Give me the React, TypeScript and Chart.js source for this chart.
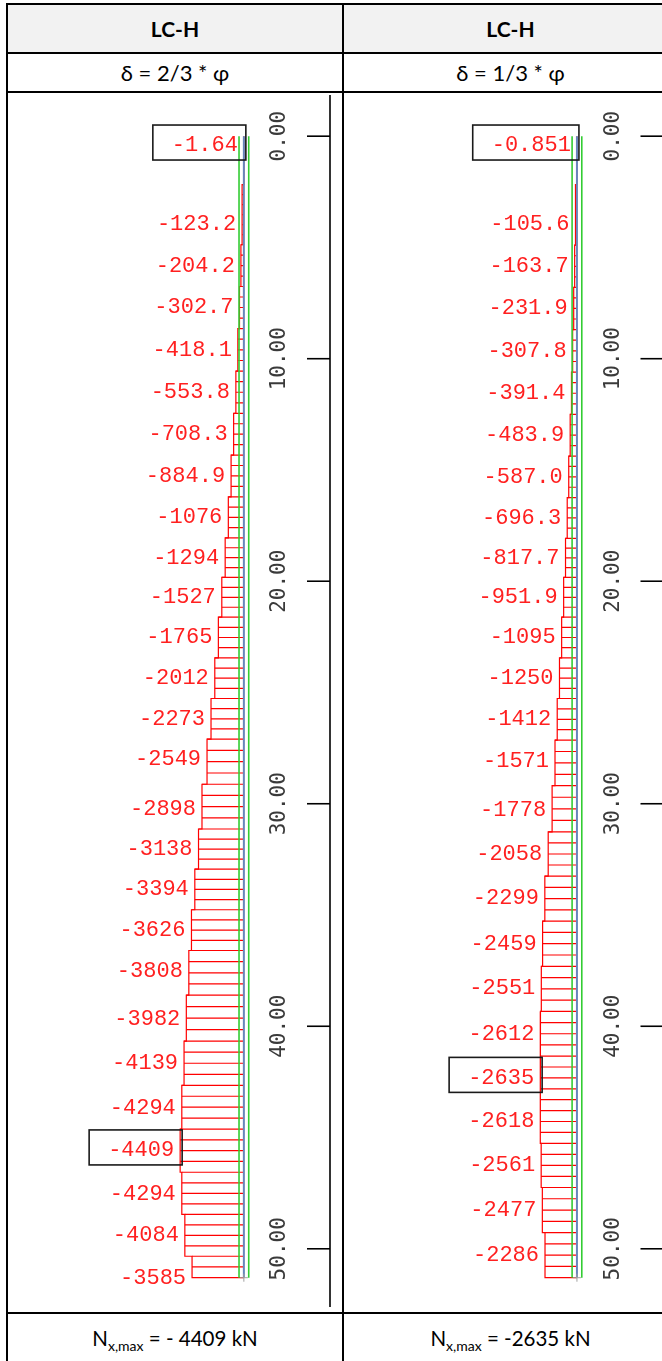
import React, { useEffect, useRef } from "react";
import { Chart, registerables } from "chart.js";

Chart.register(...registerables);

// ---------- data ----------
const columnTitles = ["LC-H", "LC-H"];
const columnSubtitles = ["δ = 2/3 * φ", "δ = 1/3 * φ"];
const maxSummaries = ["- 4409 kN", "-2635 kN"];

const pileLength = 51.3; // m
const depthTicks = [0, 10, 20, 30, 40, 50];

// left column (δ = 2/3 φ): depth of each result node [m] and normal force [kN]
const leftDepths = [
  0.42, 3.94, 5.82, 7.69, 9.6, 11.52, 13.39, 15.27, 17.14, 18.96, 20.7, 22.53, 24.36, 26.18,
  28.01, 30.24, 32.03, 33.85, 35.68, 37.51, 39.69, 41.65, 43.66, 45.58, 47.54, 49.37, 51.3,
];
const leftForces = [
  -1.64, -123.2, -204.2, -302.7, -418.1, -553.8, -708.3, -884.9, -1076, -1294, -1527, -1765,
  -2012, -2273, -2549, -2898, -3138, -3394, -3626, -3808, -3982, -4139, -4294, -4409, -4294,
  -4084, -3585,
];

// right column (δ = 1/3 φ)
const rightDepths = [
  0.42, 3.94, 5.86, 7.73, 9.65, 11.56, 13.44, 15.31, 17.18, 18.96, 20.7, 22.53, 24.36, 26.18,
  28.1, 30.28, 32.25, 34.25, 36.3, 38.31, 40.36, 42.32, 44.28, 46.24, 48.25, 50.3,
];
const rightForces = [
  -0.851, -105.6, -163.7, -231.9, -307.8, -391.4, -483.9, -587.0, -696.3, -817.7, -951.9, -1095,
  -1250, -1412, -1571, -1778, -2058, -2299, -2459, -2551, -2612, -2635, -2618, -2561, -2477,
  -2286,
];

// ---------- layout constants ----------
const CHART_H = 1219;
const PX_PER_M = 22.436;
const DEPTH_ZERO_PX = 38.5;
const HATCH_STEP = 0.47;

function fmtForce(v: number): string {
  const a = Math.abs(v);
  if (a >= 1000) return v.toFixed(0);
  if (a >= 100) return v.toFixed(1);
  return v.toPrecision(3);
}

type Seg = { top: number; bot: number; v: number };
function buildSegments(depths: number[], forces: number[], length: number): Seg[] {
  const segs: Seg[] = [];
  for (let i = 0; i < depths.length; i++) {
    const top = i === 0 ? 0 : (depths[i - 1] + depths[i]) / 2;
    const bot = i === depths.length - 1 ? length : (depths[i] + depths[i + 1]) / 2;
    segs.push({ top, bot, v: forces[i] });
  }
  return segs;
}

type DiagramProps = {
  depths: number[];
  forces: number[];
  pxPerKN: number;
  baselinePx: number;
  axisPx: number;
  width: number;
};

function ForceDiagram(props: DiagramProps) {
  const ref = useRef<HTMLCanvasElement>(null);
  useEffect(() => {
    const { depths, forces, pxPerKN, baselinePx, axisPx, width } = props;
    const segs = buildSegments(depths, forces, pileLength);

    const envelope: any[] = [];
    segs.forEach((s) => {
      envelope.push({ x: s.v, y: s.top });
      envelope.push({ x: s.v, y: s.bot });
    });
    envelope.push({ x: 0, y: pileLength });

    const hatch: any[] = [];
    segs.forEach((s) => {
      const n = Math.max(1, Math.round((s.bot - s.top) / HATCH_STEP));
      for (let k = 0; k < n; k++) {
        const h = s.top + ((s.bot - s.top) * k) / n;
        hatch.push({ x: s.v, y: h }, { x: 0, y: h }, { x: 0, y: null });
      }
    });

    const halfPile = 5 / pxPerKN;
    const xMin = -baselinePx / pxPerKN;
    const xMax = xMin + width / pxPerKN;
    const yMin = -DEPTH_ZERO_PX / PX_PER_M;
    const yMax = yMin + CHART_H / PX_PER_M;

    let maxIdx = 0;
    forces.forEach((v, i) => {
      if (Math.abs(v) > Math.abs(forces[maxIdx])) maxIdx = i;
    });

    const overlay = {
      id: "forceOverlay",
      afterDatasetsDraw(chart: any) {
        const ctx = chart.ctx as CanvasRenderingContext2D;
        const xs = chart.scales.x;
        const ys = chart.scales.y;
        ctx.save();
        // depth axis
        ctx.strokeStyle = "#000";
        ctx.lineWidth = 1.6;
        ctx.beginPath();
        ctx.moveTo(axisPx, 2);
        ctx.lineTo(axisPx, CHART_H - 5);
        ctx.stroke();
        ctx.font = '21px "DejaVu Sans Mono"';
        ctx.fillStyle = "#3a3a3a";
        ctx.textAlign = "center";
        ctx.textBaseline = "middle";
        depthTicks.forEach((t) => {
          const y = ys.getPixelForValue(t);
          ctx.beginPath();
          ctx.moveTo(axisPx - 23, y);
          ctx.lineTo(axisPx, y);
          ctx.stroke();
          ctx.save();
          ctx.translate(axisPx - 50, y);
          ctx.rotate(-Math.PI / 2);
          ctx.fillText(t.toFixed(2), 0, 0);
          ctx.restore();
        });
        // value labels
        ctx.font = '22px "Liberation Mono"';
        ctx.fillStyle = "#ff2020";
        ctx.textAlign = "right";
        ctx.textBaseline = "middle";
        ctx.strokeStyle = "#1a1a1a";
        ctx.lineWidth = 1.6;
        depths.forEach((d, i) => {
          const xp = xs.getPixelForValue(forces[i]);
          const x = xp - 6;
          const y = ys.getPixelForValue(d);
          const txt = fmtForce(forces[i]);
          ctx.fillText(txt, x, y);
          if (i === 0 || i === maxIdx) {
            const w = ctx.measureText(txt).width;
            const left = x - w - 19;
            ctx.strokeRect(left, y - 3 - 17.5, xp + 2 - left, 35);
          }
        });
        ctx.restore();
      },
    };

    const chart = new Chart(ref.current as HTMLCanvasElement, {
      type: "scatter",
      data: {
        datasets: [
          {
            label: "pile edges",
            data: [
              { x: -halfPile, y: 0 },
              { x: -halfPile, y: pileLength },
              { x: 0, y: null },
              { x: halfPile, y: 0 },
              { x: halfPile, y: pileLength },
            ] as any,
            showLine: true,
            borderColor: "#33cc33",
            borderWidth: 1.6,
            pointRadius: 0,
          },
          {
            label: "pile axis",
            data: [
              { x: 0, y: 0 },
              { x: 0, y: pileLength },
            ],
            showLine: true,
            borderColor: "#6686bb",
            borderWidth: 2,
            pointRadius: [0, 4] as any,
            pointStyle: "cross",
            pointBorderColor: "#a0a0a0",
            pointBorderWidth: 1,
          },
          {
            label: "envelope",
            data: envelope,
            showLine: true,
            borderColor: "#ff0000",
            borderWidth: 1.2,
            pointRadius: 0,
          },
          {
            label: "hatch",
            data: hatch,
            showLine: true,
            spanGaps: false,
            borderColor: "#ff0000",
            borderWidth: 1.2,
            pointRadius: 0,
          },
        ],
      },
      options: {
        responsive: false,
        maintainAspectRatio: false,
        animation: false,
        events: [],
        layout: { padding: 0 },
        plugins: { legend: { display: false }, tooltip: { enabled: false } },
        scales: {
          x: { type: "linear", display: false, min: xMin, max: xMax, bounds: "data" },
          y: { type: "linear", display: false, reverse: true, min: yMin, max: yMax, bounds: "data" },
        },
      },
      plugins: [overlay],
    } as any);
    return () => chart.destroy();
  }, []);
  return (
    <canvas
      ref={ref}
      width={props.width}
      height={CHART_H}
      style={{ display: "block", width: props.width, height: CHART_H }}
    />
  );
}

const B = "#000";

export default function App() {
  const font = 'Lato, "Open Sans", sans-serif';
  const cells = [
    { left: 8, width: 334 },
    { left: 344, width: 333 },
  ];
  const abs = (s: any) => ({ position: "absolute", ...s }) as React.CSSProperties;
  return (
    <div
      style={{
        position: "fixed",
        left: 0,
        top: 0,
        width: 662,
        height: 1361,
        overflow: "hidden",
        background: "#fff",
        fontFamily: font,
        color: "#000",
      }}
    >
      {/* header background */}
      {cells.map((c, i) => (
        <div key={"hb" + i} style={abs({ left: c.left, top: 5, width: c.width, height: 47, background: "#f2f2f2" })} />
      ))}
      {/* header text */}
      {cells.map((c, i) => (
        <div
          key={"ht" + i}
          style={abs({
            left: c.left,
            top: 5,
            width: c.width,
            height: 47,
            display: "flex",
            alignItems: "center",
            justifyContent: "center",
            fontWeight: 700,
            fontSize: 21,
          })}
        >
          {columnTitles[i]}
        </div>
      ))}
      {/* subtitle text */}
      {cells.map((c, i) => (
        <div
          key={"st" + i}
          style={abs({
            left: c.left,
            top: 54,
            width: c.width,
            height: 37,
            display: "flex",
            alignItems: "center",
            justifyContent: "center",
            fontSize: 22,
          })}
        >
          {columnSubtitles[i]}
        </div>
      ))}
      {/* charts */}
      <div style={abs({ left: 8, top: 93, width: 334, height: CHART_H })}>
        <ForceDiagram depths={leftDepths} forces={leftForces} pxPerKN={0.0149} baselinePx={238} axisPx={322} width={334} />
      </div>
      <div style={abs({ left: 344, top: 93, width: 333, height: CHART_H })}>
        <ForceDiagram depths={rightDepths} forces={rightForces} pxPerKN={0.0144} baselinePx={235} axisPx={319.5} width={333} />
      </div>
      {/* bottom text */}
      {cells.map((c, i) => (
        <div
          key={"bt" + i}
          style={abs({
            left: c.left,
            top: 1314,
            width: c.width,
            height: 48,
            display: "flex",
            alignItems: "center",
            justifyContent: "center",
            fontSize: 20.5,
          })}
        >
          <span>
            N<sub style={{ fontSize: 14, verticalAlign: -5, lineHeight: 0 }}>x,max</sub> = {maxSummaries[i]}
          </span>
        </div>
      ))}
      {/* borders */}
      <div style={abs({ left: 6, top: 3, width: 700, height: 2, background: B })} />
      <div style={abs({ left: 6, top: 52, width: 700, height: 2, background: B })} />
      <div style={abs({ left: 6, top: 91, width: 700, height: 2, background: B })} />
      <div style={abs({ left: 6, top: 1312, width: 700, height: 2, background: B })} />
      <div style={abs({ left: 6, top: 3, width: 2, height: 1400, background: B })} />
      <div style={abs({ left: 342, top: 3, width: 2, height: 1400, background: B })} />
      <div style={abs({ left: 677, top: 3, width: 2, height: 1400, background: B })} />
    </div>
  );
}
